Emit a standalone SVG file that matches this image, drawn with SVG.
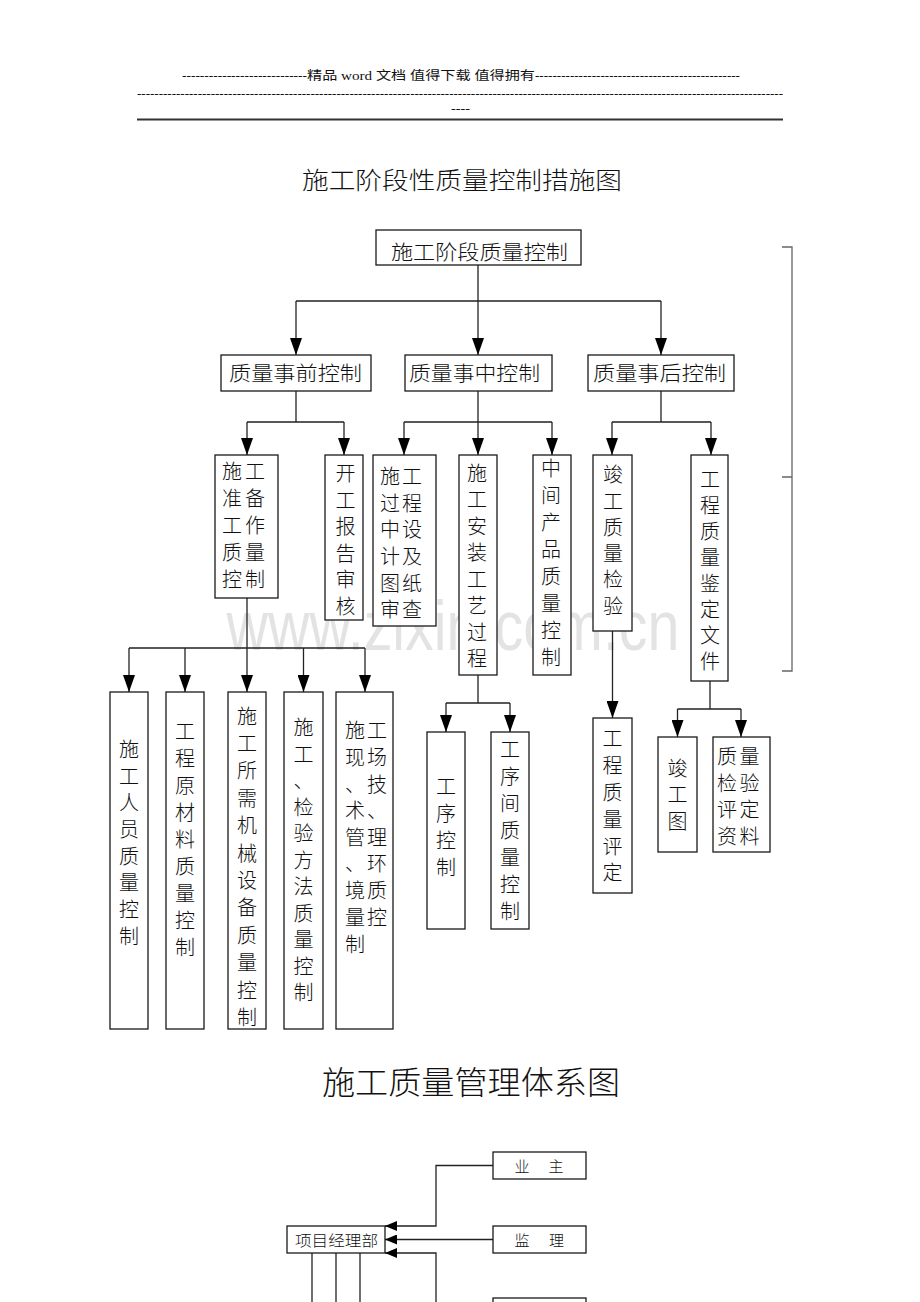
<svg xmlns="http://www.w3.org/2000/svg" width="920" height="1302" viewBox="0 0 920 1302">
<style>
text{font-family:"Noto Sans CJK SC","Liberation Sans",sans-serif;font-weight:300;fill:#111;dominant-baseline:central}
.hd{font-family:"Liberation Serif","Noto Sans CJK SC",serif;font-size:12.5px;font-weight:400}
.box{fill:#fff;stroke:#1a1a1a;stroke-width:1.3}
.c{fill:none;stroke:#222;stroke-width:1.3}
.v{font-size:20px;text-anchor:middle}
.h{font-size:20px}
.s{font-size:15px}
.sm{font-size:15px;text-anchor:middle}
</style>
<defs>
<marker id="ad" markerUnits="userSpaceOnUse" markerWidth="17" markerHeight="12" viewBox="0 0 17 12" refX="17" refY="6" orient="auto"><path d="M0,0 L17,6 L0,12 z" fill="#000"/></marker>
<marker id="as" markerUnits="userSpaceOnUse" markerWidth="12" markerHeight="10" viewBox="0 0 12 10" refX="12" refY="5" orient="auto"><path d="M0,0 L12,5 L0,10 z" fill="#000"/></marker>
</defs>
<rect width="920" height="1302" fill="#fff"/>

<g id="header">
<text class="hd" x="182" y="76" textLength="125" lengthAdjust="spacingAndGlyphs">----------------------------</text>
<text class="hd" x="307" y="76" textLength="228" lengthAdjust="spacingAndGlyphs">精品 word 文档  值得下载  值得拥有</text>
<text class="hd" x="535" y="76" textLength="205" lengthAdjust="spacingAndGlyphs">-----------------------------------------------</text>
<text class="hd" x="137" y="93.5" textLength="646" lengthAdjust="spacingAndGlyphs">-----------------------------------------------------------------------------------------------------------------------------------------------------</text>
<text class="hd" x="451" y="108.5" textLength="19" lengthAdjust="spacingAndGlyphs">----</text>
<line x1="137" y1="119.5" x2="783" y2="119.5" stroke="#333" stroke-width="2"/>
</g>

<text x="453" y="650" textLength="453" lengthAdjust="spacingAndGlyphs" style="font-family:'Liberation Sans',sans-serif;font-weight:400;font-size:70px;fill:#e3e3e3;dominant-baseline:alphabetic;text-anchor:middle">www.zixin.com.cn</text>

<text x="302" y="178.5" textLength="320" lengthAdjust="spacingAndGlyphs" style="font-size:24px">施工阶段性质量控制措施图</text>

<g id="connectors">
<path class="c" d="M478 265 V301 M296 301 H661"/>
<path class="c" d="M296 301 V355" marker-end="url(#ad)"/>
<path class="c" d="M478 301 V355" marker-end="url(#ad)"/>
<path class="c" d="M661 301 V355" marker-end="url(#ad)"/>
<path class="c" d="M296 391 V422 M247 422 H344"/>
<path class="c" d="M247 422 V455" marker-end="url(#ad)"/>
<path class="c" d="M344 422 V455" marker-end="url(#ad)"/>
<path class="c" d="M478 391 V422 M404 422 H552"/>
<path class="c" d="M404 422 V455" marker-end="url(#ad)"/>
<path class="c" d="M478 422 V455" marker-end="url(#ad)"/>
<path class="c" d="M552 422 V455" marker-end="url(#ad)"/>
<path class="c" d="M661 391 V422 M612 422 H711"/>
<path class="c" d="M612 422 V455" marker-end="url(#ad)"/>
<path class="c" d="M711 422 V455" marker-end="url(#ad)"/>
<path class="c" d="M247 598 V648 M129 648 H365"/>
<path class="c" d="M129 648 V692" marker-end="url(#ad)"/>
<path class="c" d="M185 648 V692" marker-end="url(#ad)"/>
<path class="c" d="M247 648 V692" marker-end="url(#ad)"/>
<path class="c" d="M303.5 648 V692" marker-end="url(#ad)"/>
<path class="c" d="M365 648 V692" marker-end="url(#ad)"/>
<path class="c" d="M478 675 V703 M446 703 H510"/>
<path class="c" d="M446 703 V732" marker-end="url(#ad)"/>
<path class="c" d="M510 703 V732" marker-end="url(#ad)"/>
<path class="c" d="M612.5 631 V718" marker-end="url(#ad)"/>
<path class="c" d="M710 681 V709 M677.5 709 H741"/>
<path class="c" d="M677.5 709 V737" marker-end="url(#ad)"/>
<path class="c" d="M741 709 V737" marker-end="url(#ad)"/>
<path d="M782 247 H792 V671 H782 M782 477 H792" fill="none" stroke="#666" stroke-width="1.3"/>
<path class="c" d="M493 1165.5 H436 V1226 H385" marker-end="url(#as)"/>
<path class="c" d="M493 1239.5 H385" marker-end="url(#as)"/>
<path class="c" d="M436 1310 V1253 H385" marker-end="url(#as)"/>
<path class="c" d="M312 1253 V1310 M336 1253 V1310 M360 1253 V1310"/>
</g>

<g id="n-root"><rect class="box" x="376" y="230" width="205" height="35"/><text class="h" x="391" y="251.5" textLength="177" lengthAdjust="spacingAndGlyphs">施工阶段质量控制</text></g>

<g id="n-pre"><rect class="box" x="221" y="355" width="150" height="36"/><text class="h" x="229" y="372.5" textLength="133" lengthAdjust="spacingAndGlyphs">质量事前控制</text></g>
<g id="n-mid"><rect class="box" x="405" y="355" width="147" height="36"/><text class="h" x="409" y="372.5" textLength="131" lengthAdjust="spacingAndGlyphs">质量事中控制</text></g>
<g id="n-post"><rect class="box" x="588" y="355" width="146" height="36"/><text class="h" x="593" y="372.5" textLength="133" lengthAdjust="spacingAndGlyphs">质量事后控制</text></g>

<g id="n-prep"><rect class="box" x="215" y="455" width="63" height="143"/>
<text class="v" x="232 232 232 232 232" y="470 497 524 551 578">施准工质控</text>
<text class="v" x="255 255 255 255 255" y="470 497 524 551 578">工备作量制</text></g>

<g id="n-start"><rect class="box" x="325" y="455" width="38" height="165"/>
<text class="v" x="345.5 345.5 345.5 345.5 345.5 345.5" y="472 499 525 552 578 605">开工报告审核</text></g>

<g id="n-design"><rect class="box" x="373" y="455" width="63" height="171"/>
<text class="v" x="390 390 390 390 390 390" y="475 502 528 555 582 608">施过中计图审</text>
<text class="v" x="412 412 412 412 412 412" y="475 502 528 555 582 608">工程设及纸查</text></g>

<g id="n-install"><rect class="box" x="459" y="455" width="38" height="220"/>
<text class="v" x="477 477 477 477 477 477 477 477" y="472 498.5 525 551.5 578 604.5 631 657.5">施工安装工艺过程</text></g>

<g id="n-inter"><rect class="box" x="533" y="455" width="38" height="220"/>
<text class="v" x="551 551 551 551 551 551 551 551" y="467 494 521 548 575 602 629 656">中间产品质量控制</text></g>

<g id="n-check"><rect class="box" x="593" y="455" width="39" height="176"/>
<text class="v" x="613 613 613 613 613 613" y="473 500 526 552 578 605">竣工质量检验</text></g>

<g id="n-docs"><rect class="box" x="691" y="455" width="37" height="226"/>
<text class="v" x="710 710 710 710 710 710 710 710" y="478 504 530 556 582 608 634 660">工程质量鉴定文件</text></g>

<g id="n-staff"><rect class="box" x="110" y="692" width="38" height="337"/>
<text class="v" x="129 129 129 129 129 129 129 129" y="748.3 775 801.7 828.4 855.1 881.8 908.5 935.2">施工人员质量控制</text></g>

<g id="n-material"><rect class="box" x="166" y="692" width="38" height="337"/>
<text class="v" x="185 185 185 185 185 185 185 185 185" y="730 757.1 784.2 811.3 838.4 865.5 892.6 919.7 946.8">工程原材料质量控制</text></g>

<g id="n-machine"><rect class="box" x="228" y="692" width="38" height="337"/>
<text class="v" x="247 247 247 247 247 247 247 247 247 247 247 247" y="715 742.4 769.8 797.2 824.6 852 879.4 906.8 934.2 961.6 989 1016.4">施工所需机械设备质量控制</text></g>

<g id="n-method"><rect class="box" x="284" y="692" width="39" height="337"/>
<text class="v" x="303.5 303.5 303.5 303.5 303.5 303.5 303.5 303.5 303.5 303.5 303.5" y="726.5 753 779.5 806 832.5 859 885.5 912 938.5 965 991.5">施工、检验方法质量控制</text></g>

<g id="n-site"><rect class="box" x="336" y="692" width="57" height="337"/>
<text class="v" x="355 355 355 355 355 355 355 355 355" y="729 756 783 809 836 862 889 916 943">施现、术管、境量制</text>
<text class="v" x="377 377 377 377 377 377 377 377" y="729 756 783 809 836 862 889 916">工场技、理环质控</text></g>

<g id="n-proc"><rect class="box" x="427" y="732" width="38" height="197"/>
<text class="v" x="446 446 446 446" y="785 812 839 866">工序控制</text></g>

<g id="n-between"><rect class="box" x="491" y="732" width="38" height="197"/>
<text class="v" x="510 510 510 510 510 510 510" y="748 775 802 829 856 883 910">工序间质量控制</text></g>

<g id="n-eval"><rect class="box" x="593" y="718" width="39" height="175"/>
<text class="v" x="612.5 612.5 612.5 612.5 612.5 612.5" y="737 764 791 818 845 871">工程质量评定</text></g>

<g id="n-asbuilt"><rect class="box" x="658" y="737" width="39" height="115"/>
<text class="v" x="677.5 677.5 677.5" y="767 793 820">竣工图</text></g>

<g id="n-records"><rect class="box" x="713" y="737" width="57" height="115"/>
<text class="v" x="727 727 727 727" y="755 782 808 835">质检评资</text>
<text class="v" x="749.5 749.5 749.5 749.5" y="755 782 808 835">量验定料</text></g>

<text x="322" y="1080" textLength="298" lengthAdjust="spacingAndGlyphs" style="font-size:32px">施工质量管理体系图</text>

<g id="n-pm"><rect class="box" x="287" y="1226" width="98" height="27"/><text class="s" x="295" y="1239.5" textLength="83" lengthAdjust="spacingAndGlyphs">项目经理部</text></g>
<g id="n-owner"><rect class="box" x="493" y="1152" width="93" height="27"/><text class="sm" x="522 556" y="1165.5">业主</text></g>
<g id="n-super"><rect class="box" x="493" y="1226" width="93" height="27"/><text class="sm" x="522 556.5" y="1239.5">监理</text></g>
<g id="n-third"><rect class="box" x="493" y="1298" width="93" height="27"/></g>
</svg>
